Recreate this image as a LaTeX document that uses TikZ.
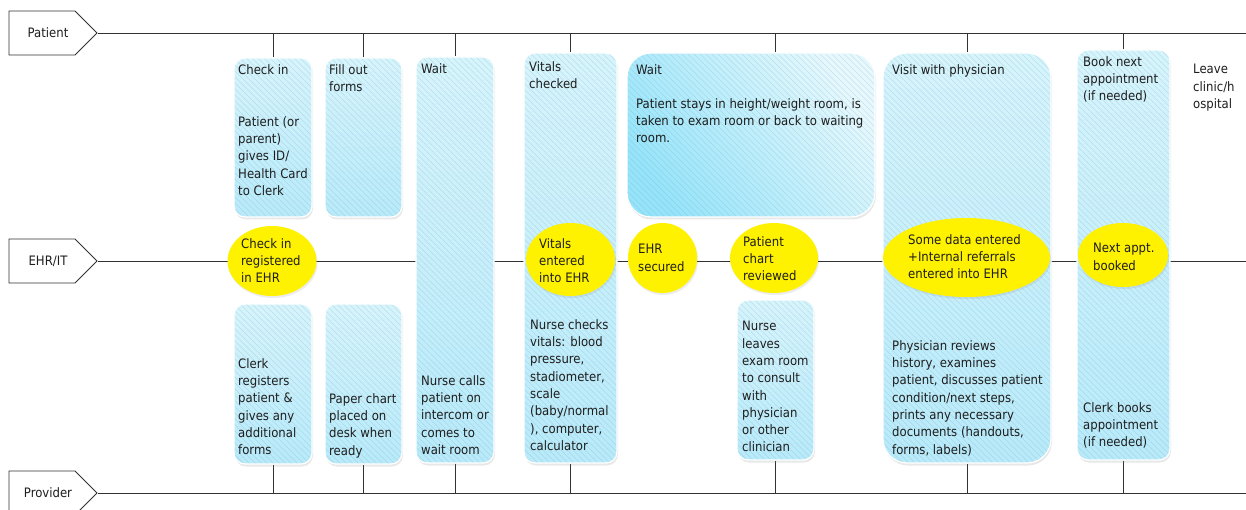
\documentclass[tikz,border=0pt]{standalone}
\usepackage{fontspec}
\setmainfont{DejaVu Sans Condensed}
\usetikzlibrary{shapes.geometric,shapes.symbols,shadows,backgrounds}

\definecolor{boxtop}{RGB}{214,244,252}
\definecolor{boxbot}{RGB}{184,234,250}
\definecolor{widetop}{RGB}{230,248,253}
\definecolor{widebot}{RGB}{150,228,250}
\definecolor{hatchcol}{RGB}{110,160,180}
\definecolor{txt}{RGB}{30,30,30}
\definecolor{linecol}{RGB}{50,50,50}

\tikzset{
  x=1pt, y=-1pt,
  hatch/.style={path picture={
    \foreach \k in {-420,-414,...,260}
      \draw[hatchcol, line width=0.4pt, opacity=0.25]
        ([xshift=\k pt]path picture bounding box.north west) -- ++(450pt,-450pt);
  }},
  stepbox/.style={rectangle, rounded corners=11pt, draw=white, line width=1.2pt,
    top color=boxtop, bottom color=boxbot, hatch,
    drop shadow={opacity=0.18, shadow xshift=1pt, shadow yshift=-2.5pt},
    inner sep=0pt},
  widebox/.style={stepbox, rounded corners=24pt},
  sysnode/.style={ellipse, fill=yellow, draw=none, inner sep=0pt,
    drop shadow={opacity=0.15, shadow xshift=1pt, shadow yshift=-2pt}},
  lane/.style={signal, signal to=east, signal pointer angle=90, draw=linecol,
    line width=0.8pt, fill=white, minimum width=88pt, minimum height=44pt, inner sep=0pt},
  label/.style={anchor=north west, inner sep=0pt, align=left, text=txt,
    font=\fontsize{13}{17.3}\selectfont},
  lanetext/.style={inner sep=0pt, text=txt, font=\fontsize{13}{16}\selectfont},
  conn/.style={draw=linecol, line width=0.8pt},
}

\begin{document}
\begin{tikzpicture}
\useasboundingbox (0,0) rectangle (1246,510);

% swim lanes
\node[lane] (pat) at (42,33) {};
\node[lane] (ehr) at (42,261) {};
\node[lane] (prov) at (42,493) {};
\node[lanetext] (patT) at (48,33) {Patient};
\node[lanetext] (ehrT) at (48,261) {EHR/IT};
\node[lanetext] (provT) at (48,493) {Provider};
\coordinate (patEnd) at (1246,33);
\coordinate (ehrEnd) at (1246,261);
\coordinate (provEnd) at (1246,493);

% activity boxes spanning the lanes
\node[stepbox, minimum width=78pt, minimum height=159pt] (b1) at (273,137.5) {};
\node[stepbox, minimum width=77pt, minimum height=159pt] (b2) at (363.5,137.5) {};
\node[stepbox, minimum width=78pt, minimum height=406pt] (b3) at (455,260) {};
\node[stepbox, minimum width=93pt, minimum height=410pt] (b4) at (570.5,258) {};
\node[widebox, top color=widetop, bottom color=widebot, shading angle=-55,
      minimum width=248pt, minimum height=164pt] (b5) at (751,135) {};
\node[widebox, minimum width=168pt, minimum height=410pt] (b6) at (967,258) {};
\node[stepbox, minimum width=93pt, minimum height=410pt] (b7) at (1123.5,255) {};

\node[stepbox, minimum width=78pt, minimum height=160pt] (c1) at (273,384) {};
\node[stepbox, minimum width=77pt, minimum height=160pt] (c2) at (363.5,384) {};
\node[stepbox, minimum width=77pt, minimum height=160pt] (c3) at (775.5,380) {};

% EHR events
\node[sysnode, minimum width=89pt, minimum height=70pt] (e1) at (272,261) {};
\node[sysnode, minimum width=89pt, minimum height=73pt] (e2) at (570.5,259.5) {};
\node[sysnode, minimum width=69pt, minimum height=70pt] (e3) at (662.5,258) {};
\node[sysnode, minimum width=88pt, minimum height=70pt] (e4) at (774,258) {};
\node[sysnode, minimum width=167pt, minimum height=79pt] (e5) at (966.5,257.5) {};
\node[sysnode, minimum width=90pt, minimum height=64pt] (e6) at (1123,255) {};

% texts
\node[label] (t1a) at (238,64.2) {Check in};
\node[label] (t1b) at (238,116.2) {Patient (or\\parent)\\gives ID/\\Health Card\\to Clerk};
\node[label] (t2) at (329,64.2) {Fill out\\forms};
\node[label] (t3a) at (421,63.2) {Wait};
\node[label] (t3b) at (421,375.2) {Nurse calls\\patient on\\intercom or\\comes to\\wait room};
\node[label] (t4a) at (529,61.2) {Vitals\\checked};
\node[label] (t4b) at (530,319.2) {Nurse checks\\vitals: blood\\pressure,\\stadiometer,\\scale\\(baby/normal\\), computer,\\calculator};
\node[label] (t5a) at (636,64.2) {Wait};
\node[label] (t5b) at (636,98.2) {Patient stays in height/weight room, is\\taken to exam room or back to waiting\\room.};
\node[label] (t6a) at (892,64.2) {Visit with physician};
\node[label] (t6b) at (892,340.2) {Physician reviews\\history, examines\\patient, discusses patient\\condition/next steps,\\prints any necessary\\documents (handouts,\\forms, labels)};
\node[label] (t7a) at (1083,56.2) {Book next\\appointment\\(if needed)};
\node[label] (t7b) at (1083,402.2) {Clerk books\\appointment\\(if needed)};
\node[label] (t8) at (1193,64.2) {Leave\\clinic/h\\ospital};
\node[label] (u1) at (238,358.2) {Clerk\\registers\\patient \&\\gives any\\additional\\forms};
\node[label] (u2) at (329,393.2) {Paper chart\\placed on\\desk when\\ready};
\node[label] (u3) at (742,321.2) {Nurse\\leaves\\exam room\\to consult\\with\\physician\\or other\\clinician};
\node[label] (s1) at (241,238.2) {Check in\\registered\\in EHR};
\node[label] (s2) at (539,238.2) {Vitals\\entered\\into EHR};
\node[label] (s3) at (638,244.2) {EHR\\secured};
\node[label] (s4) at (743,236.2) {Patient\\chart\\reviewed};
\node[label] (s5) at (908,234.2) {Some data entered\\+Internal referrals\\entered into EHR};
\node[label] (s6) at (1093,243.2) {Next appt.\\booked};

% page, lane lines and connectors behind the shapes
\begin{pgfonlayer}{background}
\fill[white] (0,0) rectangle (1246,510);
\draw[conn] (pat.east) -- (patEnd);
\draw[conn] (ehr.east) -- (ehrEnd);
\draw[conn] (prov.east) -- (provEnd);
\foreach \n in {b1,b2,b3,b4,b6,b7}
  \draw[conn] (\n.north) -- (\n.north |- pat.east);
\draw[conn] (c3.north |- b5.north) -- (c3.north |- pat.east);
\foreach \n in {c1,c2,b3,b4,c3,b6,b7}
  \draw[conn] (\n.south) -- (\n.south |- prov.east);
\end{pgfonlayer}
\end{tikzpicture}
\end{document}
